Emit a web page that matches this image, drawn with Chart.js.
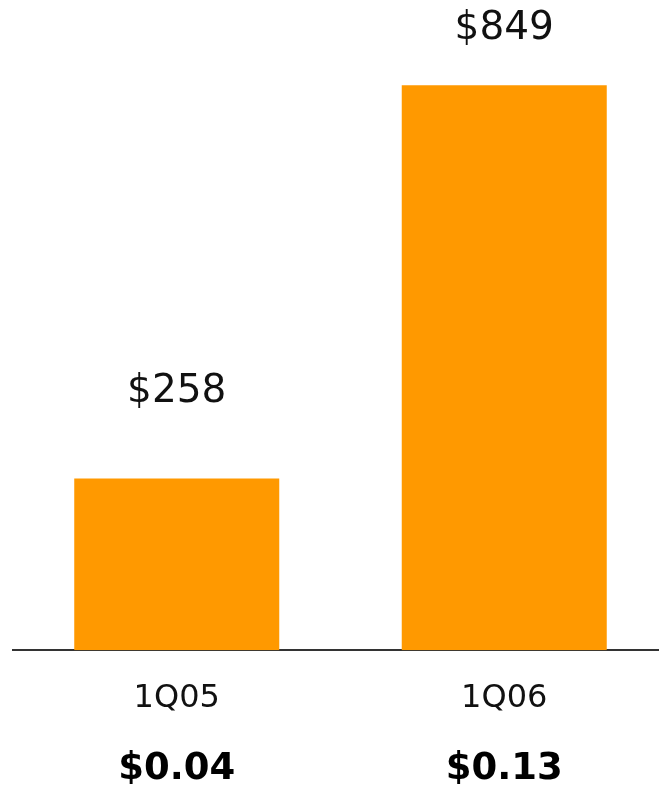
<!DOCTYPE html>
<html>
<head>
<meta charset="utf-8">
<script src="https://cdn.jsdelivr.net/npm/chart.js@4.4.0/dist/chart.umd.min.js"></script>
<style>
    html, body { margin: 0; padding: 0; background: #fff; overflow: hidden; }
    #wrap { position: relative; width: 668px; height: 793px; }
</style>
</head>
<body>
<div id="wrap"><canvas id="chart1"></canvas></div>
<script>
// Revenus par trimestre (en millions)
const quarters = ["1Q05", "1Q06"];
const revenue = [258, 849];
const revenueLabels = ["$258", "$849"];
const eps = ["$0.04", "$0.13"];

// etiquettes au dessus des barres
const valueLabels = {
    id: 'valueLabels',
    afterDatasetsDraw(chart, args, opts) {
        const ctx = chart.ctx;
        const meta = chart.getDatasetMeta(0);
        ctx.save();
        ctx.font = '39px "DejaVu Sans", Verdana, sans-serif';
        ctx.fillStyle = '#111';
        ctx.textAlign = 'center';
        ctx.textBaseline = 'middle';
        meta.data.forEach((bar, i) => {
            ctx.fillText(revenueLabels[i], bar.x, bar.y - opts.offsets[i]);
        });
        ctx.restore();
    }
};

{
    const ctx = document.getElementById("chart1").getContext('2d');

    const set = {
        labels: quarters,
        datasets: [{
            label: "Revenue",
            data: revenue,
            backgroundColor: '#ff9900',
            categoryPercentage: 1,
            barPercentage: 0.626
        }]
    };

    const chart = new Chart(ctx, {
        type: 'bar',
        data: set,
        plugins: [valueLabels],
        options: {
            responsive: true,
            maintainAspectRatio: false,
            animation: false,
            layout: { padding: { left: 13, right: 0, top: 0, bottom: 0 } },
            plugins: {
                legend: { display: false },
                tooltip: { enabled: false },
                valueLabels: { offsets: [87, 56] }
            },
            scales: {
                y: {
                    display: false,
                    min: 0,
                    max: 977
                },
                x: {
                    position: 'bottom',
                    grid: { display: false, drawTicks: false },
                    border: { display: true, color: '#333', width: 2 },
                    ticks: {
                        padding: 29,
                        color: '#111',
                        font: { family: '"DejaVu Sans", Verdana, sans-serif', size: 32 }
                    }
                },
                x2: {
                    type: 'category',
                    position: 'bottom',
                    labels: eps,
                    grid: { display: false, drawTicks: false },
                    border: { display: false },
                    ticks: {
                        padding: 1,
                        color: '#000',
                        font: { family: '"DejaVu Sans", Verdana, sans-serif', size: 37, weight: 'bold' }
                    }
                }
            }
        }
    });
}
</script>
</body>
</html>
